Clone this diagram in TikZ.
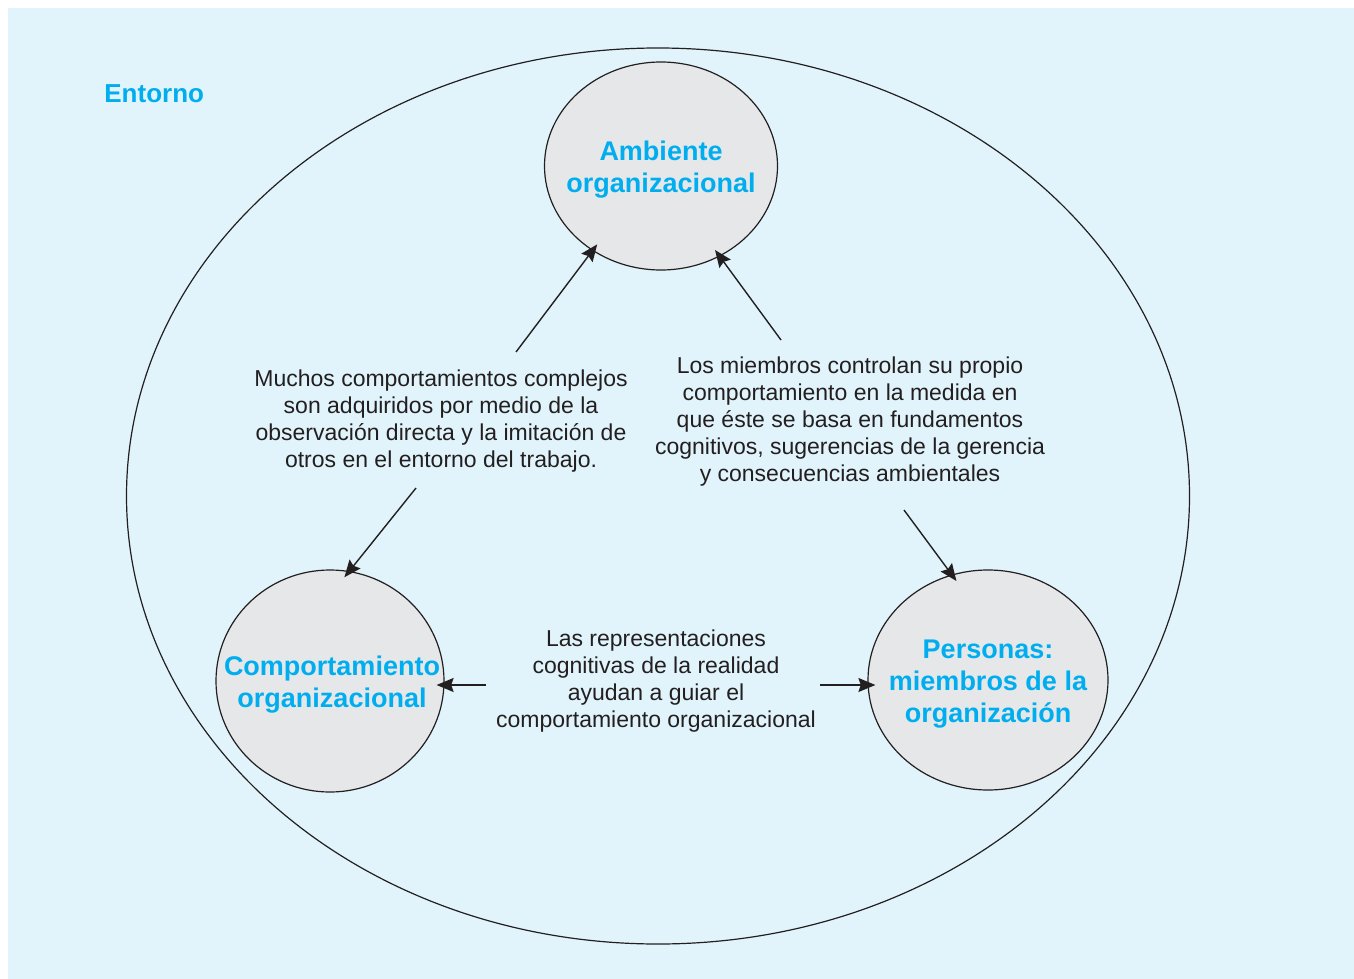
\documentclass[tikz,border=0pt]{standalone}
\usepackage{fontspec}
\setmainfont{Liberation Sans}
\usetikzlibrary{shapes.geometric, arrows.meta, positioning}
\definecolor{fondo}{HTML}{E1F4FB}
\definecolor{titulo}{HTML}{00AEEF}
\definecolor{disco}{HTML}{E6E7E8}
\definecolor{tinta}{HTML}{231F20}

\begin{document}
\begin{tikzpicture}[x=0.5pt, y=-0.5pt,
      area/.style={ellipse, draw=tinta, fill=disco, line width=0.6pt, inner sep=0pt},
      tit/.style={align=center, text=titulo, inner sep=0pt, font=\fontsize{13.5}{16}\selectfont\bfseries},
      nota/.style={align=center, text=tinta, inner sep=0pt, font=\fontsize{11.5}{13.5}\selectfont},
      edge/.style={-{Stealth[length=8.5pt, width=7pt, inset=1.2pt]}, line width=0.7pt, draw=tinta, shorten >=-4pt},
    ]
    \useasboundingbox (0,0) rectangle (1354,979);
    \fill[fondo] (8,8) rectangle (1354,979);

    % Entorno
    \node[ellipse, draw=tinta, line width=0.6pt, inner sep=0pt, minimum width=531.5pt, minimum height=448pt] (env) at (658,496) {};
    \node[tit, font=\fontsize{13}{16}\selectfont\bfseries, anchor=base west] (entorno) at (104,103) {Entorno};

    % Circles
    \node[area, minimum width=116.5pt, minimum height=104pt] (amb) at (661,166) {};
    \node[area, minimum width=114pt, minimum height=111pt] (comp) at (330,681) {};
    \node[area, minimum width=120pt, minimum height=110pt] (pers) at (988,680) {};
    \node[tit] (ambT) at ([yshift=-2pt]amb.center) {Ambiente\\organizacional};
    \node[tit] (compT) at ([xshift=1pt, yshift=-2pt]comp.center) {Comportamiento\\organizacional};
    \node[tit] (persT) at ([yshift=-2pt]pers.center) {Personas:\\miembros de la\\organización};

    % Notes
    \node[nota] (nIzq) at (441,421) {Muchos comportamientos complejos\\son adquiridos por medio de la\\observación directa y la imitación de\\otros en el entorno del trabajo.};
    \node[nota] (nDer) at (850,422) {Los miembros controlan su propio\\comportamiento en la medida en\\que éste se basa en fundamentos\\cognitivos, sugerencias de la gerencia\\y consecuencias ambientales};
    \node[nota] (nInf) at (656,681) {Las representaciones\\cognitivas de la realidad\\ayudan a guiar el\\comportamiento organizacional};

    % Edges
    \coordinate (a1) at (516,352);
    \coordinate (a2) at (781,340);
    \coordinate (a3) at (416,488);
    \coordinate (a4) at (904,510);
    \coordinate (a5) at (486,685);
    \coordinate (a6) at (820,685);
    \draw[edge] (a1) -- (amb.231);
    \draw[edge] (a2) -- (amb.303);
    \draw[edge] (a3) -- (comp.80);
    \draw[edge] (a4) -- (pers.109);
    \draw[edge] (a5) -- (a5 -| comp.east);
    \draw[edge] (a6) -- (a6 -| pers.west);

  \end{tikzpicture}
\end{document}
